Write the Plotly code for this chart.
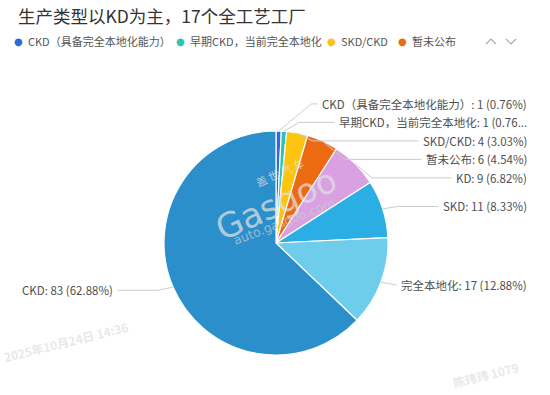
import math
import plotly.graph_objects as go

# ---------------- data ----------------
title_text = "生产类型以KD为主，17个全工艺工厂"
categories = ["CKD（具备完全本地化能力）", "早期CKD，当前完全本地化", "SKD/CKD", "暂未公布",
              "KD", "SKD", "完全本地化", "CKD"]
values = [1, 1, 4, 6, 9, 11, 17, 83]
colors = ["#3368d9", "#2cc4b3", "#fcc40f", "#ec6b12", "#d9a0e2", "#2aaee3", "#6ecdea", "#2b8fcb"]
legend_shown = 4            # legend page 1 shows the first four entries
truncate_chars = {1: 22}    # label 2 is cut off with "..."

# ---------------- layout constants ----------------
W, H = 550, 395
CX, CY, R = 276, 243, 112
FONT = "Noto Sans CJK SC"
LABEL_COLOR = "#505050"
LINE_COLOR = "#cccccc"


def px(x):
    return x / W


def py(y):
    return 1 - y / H


# percentages with largest remainder (sum = 100.00)
total = sum(values)
raw = [v * 10000 / total for v in values]
fl = [int(math.floor(x)) for x in raw]
rest = 10000 - sum(fl)
order = sorted(range(len(values)), key=lambda i: raw[i] - fl[i], reverse=True)
for i in order[:rest]:
    fl[i] += 1
pcts = [f"{x / 100:.2f}" for x in fl]

label_texts = []
for i, (c, v, p) in enumerate(zip(categories, values, pcts)):
    t = f"{c}: {v} ({p}%)"
    if i in truncate_chars:
        t = t[:truncate_chars[i]] + "..."
    label_texts.append(t)

fig = go.Figure()
fig.add_trace(go.Pie(
    labels=categories, values=values, sort=False, direction="clockwise", rotation=0,
    marker=dict(colors=colors, line=dict(color="white", width=1.2)),
    textinfo="none", hoverinfo="label+value+percent", showlegend=False,
    domain=dict(x=[px(CX - R), px(CX + R)], y=[py(CY + R), py(CY - R)]),
))

# ---------------- label layout (overlap avoidance) ----------------
mids = []
cum = 0
for v in values:
    mids.append((cum + v / 2) / total * 2 * math.pi)
    cum += v

L_NAT = 8      # radial offset used for natural label height
L1 = 15        # minimum first segment
GAP = 18.5
BALANCE = 0.7
right_idx = [i for i, a in enumerate(mids) if math.sin(a) >= 0]
left_idx = [i for i, a in enumerate(mids) if math.sin(a) < 0]
label_y = {}


def place(cluster, nat):
    pos = {}
    y0 = nat[cluster[0]]
    prev = None
    for i in cluster:
        y = nat[i] if prev is None else max(nat[i], prev + GAP)
        pos[i] = y
        prev = y
    if len(cluster) > 1:
        mshift = sum(pos[i] - nat[i] for i in cluster) / len(cluster)
        for i in cluster:
            pos[i] -= BALANCE * mshift
    return pos


for side in (right_idx, left_idx):
    nat = {i: CY - (R + L_NAT) * math.cos(mids[i]) for i in side}
    ss = sorted(side, key=lambda i: nat[i])
    clusters = [[i] for i in ss]
    pos = {i: nat[i] for i in ss}
    changed = True
    while changed:
        changed = False
        for k in range(len(clusters) - 1):
            a_cl, b_cl = clusters[k], clusters[k + 1]
            if pos[b_cl[0]] < pos[a_cl[-1]] + GAP:
                merged = a_cl + b_cl
                clusters[k:k + 2] = [merged]
                pos.update(place(merged, nat))
                changed = True
                break
    label_y.update(pos)

shapes = []
annotations = []
for i, a in enumerate(mids):
    sx = CX + R * math.sin(a)
    sy = CY - R * math.cos(a)
    ly = label_y[i]
    d = 1 if math.sin(a) >= 0 else -1
    ex = sx + d * max(L1, 1.2 * abs(ly - sy))
    shapes.append(dict(type="line", xref="paper", yref="paper",
                       x0=px(sx), y0=py(sy), x1=px(ex), y1=py(ly),
                       line=dict(color=LINE_COLOR, width=1)))
    edge = 532 if d > 0 else 17
    annotations.append(dict(
        x=px(ex), y=py(ly), xref="paper", yref="paper",
        ax=edge - ex, ay=0, axref="pixel", ayref="pixel",
        showarrow=True, arrowhead=0, arrowwidth=1, arrowcolor=LINE_COLOR,
        standoff=0, startstandoff=0, borderpad=4,
        text=label_texts[i], xanchor="right" if d > 0 else "left", yanchor="middle",
        font=dict(family=FONT, size=11.5, color=LABEL_COLOR),
    ))

# ---------------- title ----------------
annotations.append(dict(x=px(16), y=py(16), xref="paper", yref="paper", showarrow=False,
                        text=title_text, xanchor="left", yanchor="middle",
                        font=dict(family=FONT, size=17.5, color="#333333")))

# ---------------- legend (page 1) ----------------
legend_dot_x = [18, 180, 331, 402]
LY = 41
for i in range(legend_shown):
    annotations.append(dict(x=px(legend_dot_x[i]), y=py(LY), xref="paper", yref="paper",
                            showarrow=False, text="●", xanchor="center", yanchor="middle",
                            font=dict(family="DejaVu Sans", size=10, color=colors[i])))
    annotations.append(dict(x=px(legend_dot_x[i] + 8), y=py(LY), xref="paper", yref="paper",
                            showarrow=False, text=categories[i], xanchor="left", yanchor="middle",
                            font=dict(family=FONT, size=11, color="#555555")))

# pager chevrons
shapes.append(dict(type="path", xref="paper", yref="paper",
                   path=f"M {px(486)},{py(44)} L {px(491)},{py(39)} L {px(496)},{py(44)}",
                   line=dict(color="#aaaaaa", width=1.2)))
shapes.append(dict(type="path", xref="paper", yref="paper",
                   path=f"M {px(506)},{py(39)} L {px(511)},{py(44)} L {px(516)},{py(39)}",
                   line=dict(color="#aaaaaa", width=1.2)))

# ---------------- watermarks ----------------
annotations.append(dict(x=px(276), y=py(204), xref="paper", yref="paper", showarrow=False,
                        text="Gasgoo", textangle=-24, xanchor="center", yanchor="middle",
                        font=dict(family="DejaVu Sans", size=34, color="rgba(225,225,225,0.72)")))
annotations.append(dict(x=px(284), y=py(221), xref="paper", yref="paper", showarrow=False,
                        text="auto.gasgoo.com", textangle=-21, xanchor="center", yanchor="middle",
                        font=dict(family="DejaVu Sans", size=12.5, color="rgba(205,205,205,0.7)")))
annotations.append(dict(x=px(280), y=py(172), xref="paper", yref="paper", showarrow=False,
                        text="盖 世 汽 车", textangle=-24, xanchor="center", yanchor="middle",
                        font=dict(family=FONT, size=11, color="rgba(225,225,225,0.75)")))
annotations.append(dict(x=px(66), y=py(341), xref="paper", yref="paper", showarrow=False,
                        text="<b>2025年10月24日 14:36</b>", textangle=-14,
                        xanchor="center", yanchor="middle",
                        font=dict(family=FONT, size=12, color="rgba(228,228,228,0.85)")))
annotations.append(dict(x=px(449), y=py(374), xref="paper", yref="paper", showarrow=False,
                        text="<b>陈玮玮 1079</b>", textangle=-14, xanchor="left", yanchor="middle",
                        font=dict(family=FONT, size=12, color="rgba(228,228,228,0.85)")))

fig.update_layout(
    width=W, height=H, margin=dict(l=0, r=0, t=0, b=0),
    paper_bgcolor="white", plot_bgcolor="white",
    shapes=shapes, annotations=annotations,
    font=dict(family=FONT),
)

fig.write_html("out.html")
